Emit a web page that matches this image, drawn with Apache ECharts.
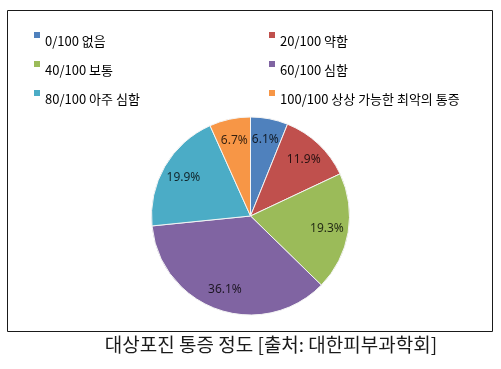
<!DOCTYPE html>
<html>
<head>
<meta charset="utf-8">
<script src="https://cdn.jsdelivr.net/npm/echarts@6/dist/echarts.min.js"></script>
<style>
html,body{margin:0;padding:0;background:#fff;}
#c{width:501px;height:369px;}
</style>
</head>
<body>
<div id="c"></div>
<script>
const categories = ['0/100 없음', '20/100 약함', '40/100 보통', '60/100 심함', '80/100 아주 심함', '100/100 상상 가능한 최악의 통증'];
const values = [6.1, 11.9, 19.3, 36.1, 19.9, 6.7];
const colors = ['#4F81BD', '#C0504D', '#9BBB59', '#8064A2', '#4BACC6', '#F79646'];
const caption = '대상포진 통증 정도 [출처: 대한피부과학회]';

const data = categories.map((n, i) => ({ name: n, value: values[i] }));
const legendText = { fontSize: 13, fontFamily: 'Noto Sans CJK KR', color: '#000', lineHeight: 16 };
const legendIcon = 'path://M0,0H6V6H0Z M6,18';

const chart = echarts.init(document.getElementById('c'), null, { renderer: 'canvas' });
chart.setOption({
  backgroundColor: '#fff',
  color: colors,
  animation: false,
  legend: [
    {
      data: [categories[0], categories[2], categories[4]],
      orient: 'vertical', left: 34, top: 32, padding: 0,
      itemWidth: 6, itemHeight: 18, itemGap: 11, icon: legendIcon,
      itemStyle: { borderWidth: 0 },
      textStyle: legendText
    },
    {
      data: [categories[1], categories[3], categories[5]],
      orient: 'vertical', left: 269, top: 32, padding: 0,
      itemWidth: 6, itemHeight: 18, itemGap: 11, icon: legendIcon,
      itemStyle: { borderWidth: 0 },
      textStyle: legendText
    }
  ],
  graphic: [
    {
      type: 'rect', silent: true,
      shape: { x: 7.5, y: 10.5, width: 485, height: 321 },
      style: { fill: 'none', stroke: '#1a1a1a', lineWidth: 1 }
    },
    {
      type: 'text', silent: true, x: 271, y: 345,
      style: {
        text: caption, fontSize: 19, fontFamily: 'Noto Sans CJK KR',
        fill: '#1a1a1a', align: 'center', verticalAlign: 'middle'
      }
    }
  ],
  series: [
    {
      type: 'pie',
      center: [250.5, 216],
      radius: [0, 99],
      startAngle: 90,
      clockwise: true,
      data: data,
      label: { show: false },
      labelLine: { show: false },
      itemStyle: { borderColor: '#f4f4f4', borderWidth: 1 },
      emphasis: { disabled: true }
    },
    {
      type: 'pie',
      center: [250.5, 216],
      radius: [50, 99],
      startAngle: 90,
      clockwise: true,
      silent: true,
      data: data,
      itemStyle: { color: 'rgba(0,0,0,0)', borderWidth: 0 },
      label: {
        show: true, position: 'inside',
        formatter: p => p.value.toFixed(1) + '%',
        fontSize: 12, fontFamily: 'Noto Sans', color: 'rgba(0,0,0,0.78)'
      },
      labelLine: { show: false },
      emphasis: { disabled: true }
    }
  ]
});
</script>
</body>
</html>
